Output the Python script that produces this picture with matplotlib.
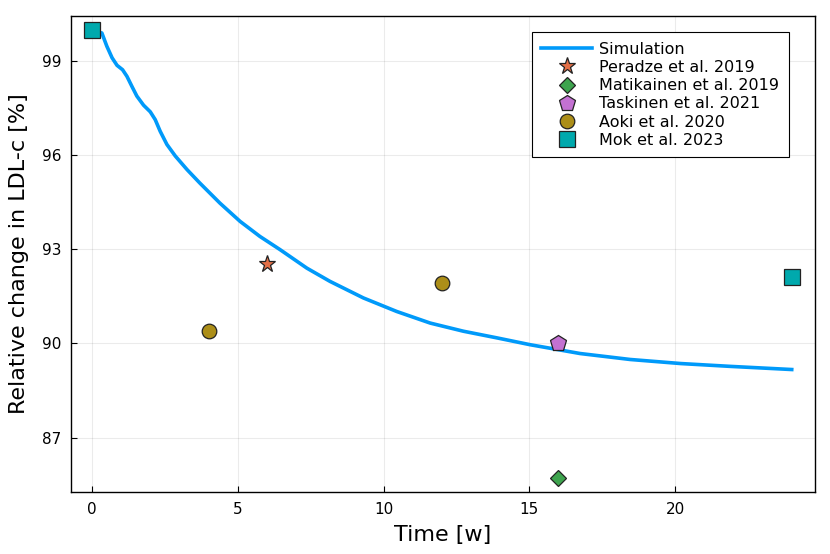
import matplotlib
matplotlib.use('Agg')
import matplotlib.pyplot as plt

# simulated LDL-c curve
t_sim = [0.0, 0.34, 0.51, 0.69, 0.86, 1.05, 1.20, 1.37, 1.54, 1.77, 2.00, 2.17,
         2.34, 2.57, 2.86, 3.26, 3.70, 4.39, 5.08, 5.76, 6.45, 7.37, 8.16, 9.31,
         10.45, 11.6, 12.74, 13.88, 15.03, 16.74, 18.46, 20.2, 21.9, 24.0]
y_sim = [100.0, 99.89, 99.47, 99.10, 98.86, 98.72, 98.51, 98.19, 97.88, 97.59,
         97.38, 97.13, 96.76, 96.34, 95.97, 95.54, 95.11, 94.47, 93.89, 93.41,
         92.99, 92.40, 91.98, 91.45, 91.02, 90.65, 90.39, 90.18, 89.96, 89.68,
         89.49, 89.36, 89.27, 89.17]

# clinical data
peradze_t = [6]
peradze_y = [92.52]
matikainen_t = [16]
matikainen_y = [85.70]
taskinen_t = [16]
taskinen_y = [90.0]
aoki_t = [4, 12]
aoki_y = [90.40, 91.93]
mok_t = [0, 24]
mok_y = [100.0, 92.12]

xticks = [0, 5, 10, 15, 20]
yticks = [87, 90, 93, 96, 99]

fig = plt.figure(figsize=(8.3, 5.54), dpi=100)
ax = fig.add_axes([0.0855, 0.112, 0.8965, 0.859])

ax.plot(t_sim, y_sim, color='#009AFA', lw=2.6, label='Simulation', zorder=2,
        solid_joinstyle='round')
mk = dict(markeredgecolor='#222222', markeredgewidth=0.9, linestyle='none', zorder=3)
ax.plot(peradze_t, peradze_y, marker='*', ms=12.5, color='#E36F47', label='Peradze et al. 2019', **mk)
ax.plot(matikainen_t, matikainen_y, marker='D', ms=8.5, color='#3EA44E', label='Matikainen et al. 2019', **mk)
ax.plot(taskinen_t, taskinen_y, marker='p', ms=12, color='#C371D2', label='Taskinen et al. 2021', **mk)
ax.plot(aoki_t, aoki_y, marker='o', ms=10.5, color='#AC8E18', label='Aoki et al. 2020', **mk)
ax.plot(mok_t, mok_y, marker='s', ms=11, color='#00A9AD', label='Mok et al. 2023', **mk)

ax.set_xlim(-0.72, 24.8)
ax.set_ylim(85.27, 100.43)
ax.set_xticks(xticks)
ax.set_yticks(yticks)
ax.tick_params(direction='in', labelsize=11, length=4, width=0.8, pad=7)
ax.grid(True, color='#000000', alpha=0.08, lw=0.8)
for s in ax.spines.values():
    s.set_linewidth(1.0)

ax.set_xlabel('Time [w]', fontsize=16, labelpad=6)
ax.set_ylabel('Relative change in LDL-c [%]', fontsize=16, labelpad=9)

leg = ax.legend(loc='upper right', bbox_to_anchor=(0.965, 0.966), fontsize=11.5,
                frameon=True, fancybox=False, edgecolor='black', framealpha=1,
                handlelength=3.2, borderpad=0.6, labelspacing=0.2, handletextpad=0.45,
                borderaxespad=0)
leg.get_frame().set_linewidth(0.8)

fig.savefig('out.png', dpi=100)
